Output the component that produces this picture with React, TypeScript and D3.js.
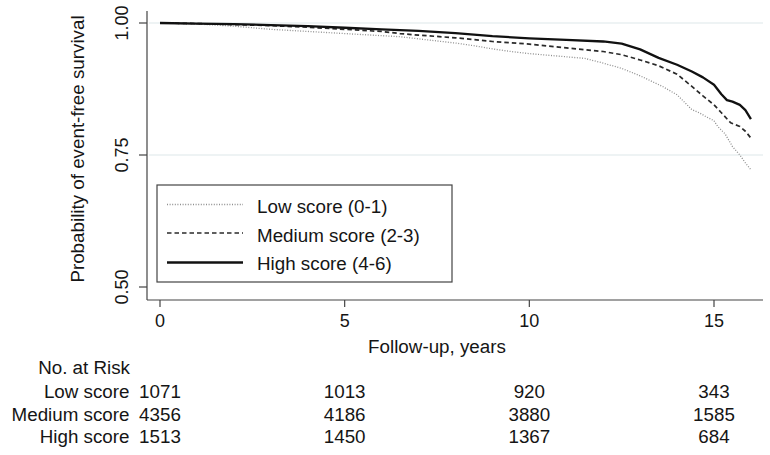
import React from "react";
import * as d3 from "d3";

const lowT = [0, 0.5, 1, 1.5, 2, 2.5, 3, 3.5, 4, 4.5, 5, 5.5, 6, 6.5, 7, 7.5, 8, 8.5, 9, 9.5, 10, 10.5, 11, 11.5, 12, 12.5, 13, 13.3, 13.6, 14, 14.2, 14.4, 14.6, 14.8, 15, 15.1, 15.3, 15.5, 15.7, 15.85, 16];
const lowS = [1.0, 0.999, 0.998, 0.996, 0.994, 0.991, 0.988, 0.986, 0.984, 0.982, 0.98, 0.978, 0.976, 0.974, 0.97, 0.966, 0.962, 0.957, 0.951, 0.946, 0.942, 0.939, 0.936, 0.933, 0.924, 0.914, 0.9, 0.89, 0.88, 0.864, 0.85, 0.836, 0.83, 0.822, 0.815, 0.804, 0.79, 0.766, 0.75, 0.735, 0.722];

const medT = [0, 1, 2, 3, 4, 5, 6, 6.5, 7, 8, 9, 10, 11, 12, 12.5, 13, 13.5, 14, 14.4, 14.7, 15, 15.2, 15.45, 15.7, 15.85, 16];
const medS = [1.0, 0.999, 0.997, 0.995, 0.992, 0.988, 0.984, 0.98, 0.977, 0.972, 0.965, 0.96, 0.953, 0.946, 0.94, 0.93, 0.919, 0.903, 0.88, 0.862, 0.845, 0.83, 0.811, 0.804, 0.795, 0.782];

const highT = [0, 1, 2, 3, 4, 5, 6, 7, 8, 9, 10, 11, 12, 12.5, 13, 13.5, 14, 14.4, 14.7, 15, 15.2, 15.35, 15.5, 15.7, 15.85, 16];
const highS = [1.0, 0.999, 0.998, 0.996, 0.994, 0.991, 0.988, 0.985, 0.981, 0.975, 0.971, 0.968, 0.965, 0.961, 0.95, 0.934, 0.921, 0.908, 0.897, 0.883, 0.865, 0.854, 0.851, 0.845, 0.835, 0.818];

const xTicks = [0, 5, 10, 15];
const yTicks = [0.5, 0.75, 1.0];
const yTickLabels = ["0.50", "0.75", "1.00"];
const gridValues = [0.75, 1.0];

const legendLabels = ["Low score (0-1)", "Medium score (2-3)", "High score (4-6)"];
const riskGroups = ["Low score", "Medium score", "High score"];
const riskLow = [1071, 1013, 920, 343];
const riskMed = [4356, 4186, 3880, 1585];
const riskHigh = [1513, 1450, 1367, 684];

const FONT = "'Liberation Sans', Arial, Helvetica, sans-serif";

export default function App() {
  const x = d3.scaleLinear().domain([0, 15]).range([160, 714]);
  const y = d3.scaleLinear().domain([0.5, 1]).range([287, 23]);

  const line = d3
    .line<[number, number]>()
    .x((d) => x(d[0]))
    .y((d) => y(d[1]))
    .curve(d3.curveLinear);

  const mk = (t: number[], s: number[]) => t.map((v, i) => [v, s[i]] as [number, number]);

  const series = [
    { data: mk(lowT, lowS), stroke: "#8f8f8f", width: 1.3, dash: "1,1.6" },
    { data: mk(medT, medS), stroke: "#2a2a2a", width: 1.7, dash: "4.5,3" },
    { data: mk(highT, highS), stroke: "#111", width: 2.3, dash: undefined as string | undefined },
  ];

  const axisLeft = 147;
  const axisBottom = 300;
  const plotRight = 763;

  const legendY = [204.5, 233, 262.5];
  const legendTextY = [213, 241.5, 270];
  const riskRowsY = [398, 420.5, 443];
  const riskData = [riskLow, riskMed, riskHigh];
  const ink = "#151515";

  return (
    <svg
      width={770}
      height={455}
      style={{ position: "absolute", left: 0, top: 0, background: "#fff" }}
      fontFamily={FONT}
    >
      <rect x={0} y={0} width={770} height={455} fill="#fff" />
      {gridValues.map((g) => (
        <line key={g} x1={axisLeft + 2} x2={plotRight} y1={y(g)} y2={y(g)} stroke="#dde7ea" strokeWidth={1.2} />
      ))}
      <line x1={axisLeft} x2={axisLeft} y1={11} y2={axisBottom} stroke="#444" strokeWidth={1.2} />
      <line x1={axisLeft} x2={plotRight} y1={axisBottom} y2={axisBottom} stroke="#444" strokeWidth={1.2} />
      {yTicks.map((t, i) => (
        <g key={t}>
          <line x1={axisLeft - 8} x2={axisLeft} y1={y(t)} y2={y(t)} stroke="#444" strokeWidth={1.2} />
          <text
            transform={`translate(128,${y(t)}) rotate(-90)`}
            textAnchor="middle"
            fontSize={18}
            fill={ink}
          >
            {yTickLabels[i]}
          </text>
        </g>
      ))}
      {xTicks.map((t) => (
        <g key={t}>
          <line x1={x(t)} x2={x(t)} y1={axisBottom} y2={axisBottom + 7} stroke="#444" strokeWidth={1.2} />
          <text x={x(t)} y={327} textAnchor="middle" fontSize={18} fill={ink}>
            {t}
          </text>
        </g>
      ))}
      <text
        transform={`translate(84,149) rotate(-90)`}
        textAnchor="middle"
        fontSize={18.8}
        fill={ink}
      >
        Probability of event-free survival
      </text>
      <text x={437} y={353} textAnchor="middle" fontSize={18.8} fill={ink}>
        Follow-up, years
      </text>

      {series.map((s, i) => (
        <path
          key={i}
          d={line(s.data) || ""}
          fill="none"
          stroke={s.stroke}
          strokeWidth={s.width}
          strokeDasharray={s.dash}
          strokeLinejoin="round"
        />
      ))}

      <rect x={157} y={185} width={295} height={97} fill="#fff" stroke="#444" strokeWidth={1.2} />
      {series.map((s, i) => (
        <g key={i}>
          <line
            x1={167}
            x2={243}
            y1={legendY[i]}
            y2={legendY[i]}
            stroke={s.stroke}
            strokeWidth={s.width}
            strokeDasharray={s.dash}
          />
          <text x={257} y={legendTextY[i]} fontSize={18.8} fill={ink}>
            {legendLabels[i]}
          </text>
        </g>
      ))}

      <text x={130} y={373.5} textAnchor="end" fontSize={18.8} fill={ink}>
        No. at Risk
      </text>
      {riskGroups.map((g, i) => (
        <g key={g}>
          <text x={129.5} y={riskRowsY[i]} textAnchor="end" fontSize={18.8} fill={ink}>
            {g}
          </text>
          {riskData[i].map((n, j) => (
            <text key={j} x={x(xTicks[j])} y={riskRowsY[i]} textAnchor="middle" fontSize={18.8} fill={ink}>
              {n}
            </text>
          ))}
        </g>
      ))}
    </svg>
  );
}
